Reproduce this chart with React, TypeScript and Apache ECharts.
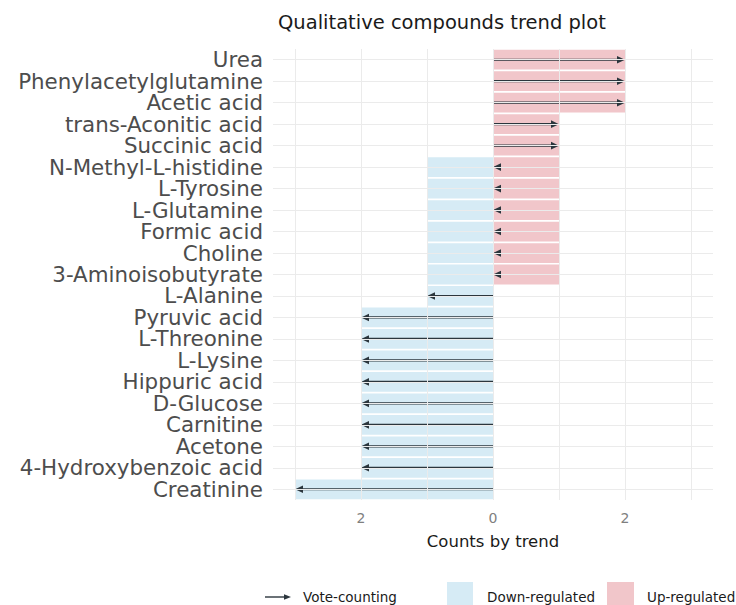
import React, { useEffect, useRef } from "react";
import * as echarts from "echarts";

const compounds = [
  "Urea",
  "Phenylacetylglutamine",
  "Acetic acid",
  "trans-Aconitic acid",
  "Succinic acid",
  "N-Methyl-L-histidine",
  "L-Tyrosine",
  "L-Glutamine",
  "Formic acid",
  "Choline",
  "3-Aminoisobutyrate",
  "L-Alanine",
  "Pyruvic acid",
  "L-Threonine",
  "L-Lysine",
  "Hippuric acid",
  "D-Glucose",
  "Carnitine",
  "Acetone",
  "4-Hydroxybenzoic acid",
  "Creatinine",
];
const upCounts = [2, 2, 2, 1, 1, 1, 1, 1, 1, 1, 1, 0, 0, 0, 0, 0, 0, 0, 0, 0, 0];
const downCounts = [0, 0, 0, 0, 0, 1, 1, 1, 1, 1, 1, 1, 2, 2, 2, 2, 2, 2, 2, 2, 3];
const voteCounts = [2, 2, 2, 1, 1, 0, 0, 0, 0, 0, 0, -1, -2, -2, -2, -2, -2, -2, -2, -2, -3];
const xTickValues = [-2, 0, 2];
const xGridValues = [-3, -2, -1, 0, 1, 2, 3];

const FONT = "DejaVu Sans";
const ARROW = "#2b363d";
const UP_FILL = "rgba(228,142,150,0.5)";
const DOWN_FILL = "rgba(173,215,235,0.5)";

export default function App() {
  const ref = useRef<HTMLDivElement>(null);
  useEffect(() => {
    document.body.style.margin = "0";
    const chart = echarts.init(ref.current as HTMLDivElement, null, { renderer: "svg" });
    const option: any = {
      animation: false,
      title: {
        text: "Qualitative compounds trend plot",
        left: 278,
        top: 12,
        padding: 0,
        textStyle: { fontFamily: FONT, fontSize: 19.5, fontWeight: "normal", color: "#1a1a1a" },
      },
      grid: { left: 273, right: 23, top: 49, height: 451 },
      xAxis: {
        type: "value",
        min: -10 / 3,
        max: 10 / 3,
        axisLine: { show: false },
        axisTick: { show: false },
        splitLine: { show: false },
        axisLabel: {
          customValues: xTickValues,
          formatter: (v: number) => String(Math.abs(Math.round(v))),
          color: "#7f7f7f",
          fontSize: 14,
          fontFamily: FONT,
          margin: 11,
        },
        name: "Counts by trend",
        nameLocation: "middle",
        nameGap: 33,
        nameTextStyle: { fontFamily: FONT, fontSize: 16.5, color: "#1a1a1a" },
      },
      yAxis: {
        type: "category",
        data: compounds,
        inverse: true,
        axisLine: { show: false },
        axisTick: { show: false },
        splitLine: { show: false },
        axisLabel: {
          interval: 0,
          fontFamily: FONT,
          fontSize: 21.4,
          lineHeight: 20,
          color: "#4d4d4d",
          margin: 10,
        },
      },
      series: [
        {
          type: "line",
          data: [],
          z: 1,
          silent: true,
          markLine: {
            silent: true,
            symbol: ["none", "none"],
            label: { show: false },
            lineStyle: { color: "#ebebeb", width: 1, type: "solid" },
            data: [
              ...xGridValues.map((v) => ({ xAxis: v })),
              ...compounds.map((c) => ({ yAxis: c })),
            ],
          },
        },
        {
          name: "Down-regulated",
          type: "bar",
          z: 2,
          data: downCounts.map((v) => -v),
          barCategoryGap: "8%",
          barGap: "-100%",
          itemStyle: { color: DOWN_FILL },
        },
        {
          name: "Up-regulated",
          type: "bar",
          z: 2,
          data: upCounts,
          barCategoryGap: "8%",
          barGap: "-100%",
          itemStyle: { color: UP_FILL },
        },
        {
          name: "Vote-counting",
          type: "custom",
          z: 3,
          encode: { x: 0, y: 1 },
          data: voteCounts.map((v, i) => [v, i]),
          renderItem: (_params: any, api: any) => {
            const v = api.value(0);
            const idx = api.value(1);
            const s = api.coord([0, idx]);
            const e = api.coord([v, idx]);
            const dir = v > 0 ? 1 : -1;
            const L = 8;
            const W = 3.8;
            const tip = e[0];
            const y = e[1];
            const base = tip - dir * L;
            const children: any[] = [];
            if (Math.abs(e[0] - s[0]) > L) {
              children.push({
                type: "rect",
                shape: { x: Math.min(s[0], base + dir), y: y - 1.1, width: Math.abs(base + dir - s[0]), height: 2.2 },
                style: { fill: ARROW },
              });
            }
            children.push({
              type: "polygon",
              shape: { points: [[tip, y], [base, y - W], [base, y + W]] },
              style: { fill: ARROW },
            });
            return { type: "group", children };
          },
        },
      ],
      graphic: [
        { type: "rect", shape: { x: 265, y: 596.3, width: 20, height: 1.4 }, style: { fill: ARROW } },
        { type: "polygon", shape: { points: [[291, 597], [284, 594.2], [284, 599.8]] }, style: { fill: ARROW } },
        {
          type: "text",
          x: 303,
          y: 597,
          style: { text: "Vote-counting", fontFamily: FONT, fontSize: 13.5, fill: "#1a1a1a", textVerticalAlign: "middle" },
        },
        { type: "rect", shape: { x: 447, y: 582, width: 26, height: 26 }, style: { fill: DOWN_FILL } },
        {
          type: "text",
          x: 487,
          y: 597,
          style: { text: "Down-regulated", fontFamily: FONT, fontSize: 13.5, fill: "#1a1a1a", textVerticalAlign: "middle" },
        },
        { type: "rect", shape: { x: 607, y: 582, width: 27, height: 26 }, style: { fill: UP_FILL } },
        {
          type: "text",
          x: 647,
          y: 597,
          style: { text: "Up-regulated", fontFamily: FONT, fontSize: 13.5, fill: "#1a1a1a", textVerticalAlign: "middle" },
        },
      ],
    };
    chart.setOption(option);
    return () => chart.dispose();
  }, []);
  return <div ref={ref} style={{ width: 736, height: 605 }} />;
}
